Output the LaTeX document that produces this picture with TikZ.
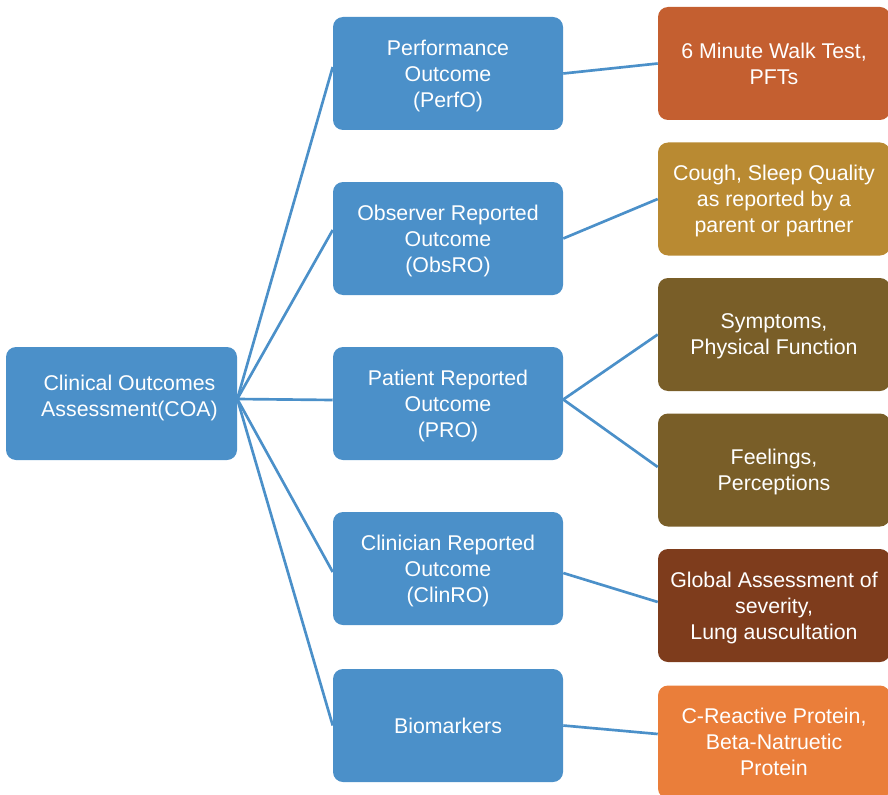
\documentclass[tikz,border=0pt]{standalone}
\usepackage{fontspec}
\setmainfont{Liberation Sans}
\usetikzlibrary{calc}

\definecolor{coablue}{HTML}{4B90C9}
\definecolor{perfcol}{HTML}{C45F30}
\definecolor{obscol}{HTML}{B98A32}
\definecolor{procol}{HTML}{795E28}
\definecolor{clincol}{HTML}{7E3C1C}
\definecolor{biocol}{HTML}{EA7E3A}

\tikzset{
  box/.style={rounded corners=7.5pt, inner sep=0pt, align=center,
    text=white, font=\fontsize{16}{19.5}\selectfont,
    minimum height=84.75pt, text depth=0pt},
  midbox/.style={box, fill=coablue, minimum width=172.5pt},
  leafbox/.style={box, minimum width=174pt},
  link/.style={draw=coablue, line width=2pt},
  lbl/.style={align=center, text=white, inner sep=0pt,
    font=\fontsize{16}{19.5}\selectfont}
}

\begin{document}
\begin{tikzpicture}[x=0.75pt,y=-0.75pt]
\useasboundingbox (0,0) rectangle (888,795);
\clip (0,0) rectangle (888,795);

% root
\node[box, fill=coablue, minimum width=173.25pt] (coa) at (121.5,403.5) {};
\node[lbl] (coatext) at (129.5,398) {Clinical Outcomes\\Assessment(COA)};

% outcome types
\node[midbox] (perfo)  at (448,73.5)  {Performance\\Outcome\\(PerfO)};
\node[midbox] (obsro)  at (448,238.5) {Observer Reported\\Outcome\\(ObsRO)};
\node[midbox] (pro)    at (448,403.5) {Patient Reported\\Outcome\\(PRO)};
\node[midbox] (clinro) at (448,568.5) {Clinician Reported\\Outcome\\(ClinRO)};
\node[midbox] (bio)    at (448,725.5) {Biomarkers};

% examples
\node[leafbox, fill=perfcol] (walk)  at (774,63.5)  {6 Minute Walk Test,\\PFTs};
\node[leafbox, fill=obscol]  (cough) at (774,199)   {Cough, Sleep Quality\\as reported by a\\parent or partner};
\node[leafbox, fill=procol]  (symp)  at (774,334.5) {Symptoms,\\Physical Function};
\node[leafbox, fill=procol]  (feel)  at (774,470)   {Feelings,\\Perceptions};
\node[leafbox, fill=clincol] (glob)  at (774,605.5) {Global Assessment of\\severity,\\Lung auscultation};
\node[leafbox, fill=biocol]  (crp)   at (774,742)   {C-Reactive Protein,\\Beta-Natruetic\\Protein};

% root to outcome types
\coordinate (hub) at ($(coa.east)+(0,-4.5)$);
\draw[link] (hub) -- ($(perfo.west)+(0,-6.5)$);
\draw[link] (hub) -- ($(obsro.west)+(0,-8.5)$);
\draw[link] (hub) -- ($(pro.west)+(0,-3.5)$);
\draw[link] (hub) -- ($(clinro.west)+(0,3.5)$);
\draw[link] (hub) -- (bio.west);

% outcome types to examples
\draw[link] (perfo.east) -- (walk.west);
\draw[link] (obsro.east) -- (cough.west);
\draw[link] ($(pro.east)+(0,-4)$) -- (symp.west);
\draw[link] ($(pro.east)+(0,-4)$) -- ($(feel.west)+(0,-3)$);
\draw[link] ($(clinro.east)+(0,4.5)$) -- ($(glob.west)+(0,-3.5)$);
\draw[link] (bio.east) -- ($(crp.west)+(0,-8)$);
\end{tikzpicture}
\end{document}
